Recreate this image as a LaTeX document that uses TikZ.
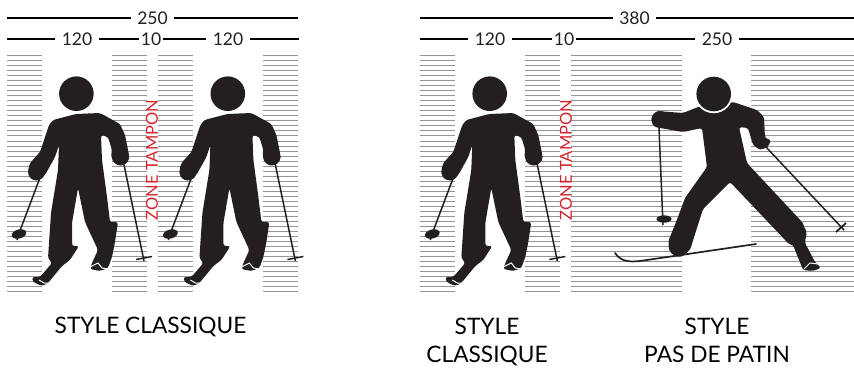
\documentclass[tikz,border=0pt]{standalone}
\usepackage{fontspec}
\setmainfont{Lato}
\usetikzlibrary{positioning}
\definecolor{inkblack}{HTML}{231F20}
\definecolor{zonered}{HTML}{D2232A}
\tikzset{
  hatchline/.style={black!42,line width=1pt},
  dimline/.style={black,line width=1.4pt},
  dimlbl/.style={font=\fontsize{17.5}{17}\selectfont,inner xsep=6.5pt,inner ysep=0pt,text=inkblack},
  dimlbltight/.style={dimlbl,inner xsep=1.5pt},
  zonelbl/.style={font=\fontsize{16.5}{17}\selectfont,text=zonered,rotate=90,inner sep=0pt},
  stylelbl/.style={font=\fontsize{22.7}{28}\selectfont,align=center,text=black,inner sep=0pt},
  skierbody/.style={fill=inkblack,rounded corners=2.5pt},
  skierpole/.style={draw=inkblack,line width=1.5pt},
  skierbasket/.style={fill=inkblack},
  shoeline/.style={draw=white,line width=1pt},
  classique/.pic={
    \fill[skierbody] (53,120) -- (76,114) -- (100,113) -- (120,124) -- (125,135) -- (129,155)
      -- (129,160) -- (123,165) -- (114,163) -- (111,156) -- (112,150) -- (108,137) -- (101,135)
      -- (102,160) -- (107,197) -- (110,222) -- (118,222) -- (115,242) -- (112,257) -- (108,268)
      -- (100,271) -- (90,269) -- (92,263) -- (98,250) -- (85,222) -- (78,188) -- (72,223)
      -- (72,246) -- (79,246) -- (70,260) -- (62,266) -- (48,283) -- (42,286) -- (33,282)
      -- (32,277) -- (40,277) -- (52,263) -- (48,258) -- (51,213) -- (58,170) -- (59,145)
      -- (55,157) -- (45,175) -- (38,180) -- (31,177) -- (28,170) -- (30,163) -- (40,152)
      -- (49,125) -- cycle;
    \fill[inkblack] (76.4,93.7) circle (17.3);
    \fill[inkblack] (36.5,172) circle (8.5);
    \fill[inkblack] (120.5,157) circle (8.5);
    \draw[shoeline] (39,280) -- (44,283) -- (50,283);
    \draw[shoeline] (90,267) -- (98,263) -- (102,268) -- (108,269);
    \draw[skierpole] (41,175) -- (18,236);
    \fill[skierbasket,rotate around={15:(19,234)}] (19,234) ellipse (7.5 and 4.5);
    \draw[skierpole] (18,236) -- (17,240);
    \draw[skierpole] (123,160) -- (144,261);
    \draw[skierpole] (136,259.5) -- (152,256.5);
  },
  patin/.pic={
    \fill[skierbody] (698,107) -- (683,113) -- (657,111) -- (651,118) -- (653,126) -- (660,128)
      -- (683,132) -- (702,128) -- (707,167) -- (685,198) -- (678,217) -- (668,242) -- (672,253)
      -- (682,256) -- (690,250) -- (703,209) -- (730,182) -- (787,242) -- (793,245) -- (803,270)
      -- (813,271) -- (821,268) -- (815,262) -- (805,243) -- (806,233) -- (803,223) -- (747,163)
      -- (739,127) -- (748,128) -- (753,145) -- (760,150) -- (768,147) -- (771,140) -- (765,138)
      -- (764,117) -- (757,110) -- (733,102) -- cycle;
    \fill[inkblack] (660,119.5) circle (8.5);
    \fill[inkblack] (679,246) circle (10.5);
    \fill[inkblack] (795,234) circle (11.5);
    \fill[white] (713.7,94) circle (19.2);
    \fill[inkblack] (713.7,94) circle (17.3);
    \draw[shoeline] (804,269) -- (810,263) -- (818,264);
    \draw[skierpole] (659,128) -- (663,225);
    \fill[skierbasket] (664,219) ellipse (7.5 and 3.7);
    \draw[skierpole] (766,147) -- (844,230);
    \draw[inkblack,line width=1.8pt] (836,232) -- (846,223);
    \draw[inkblack,line width=1.7pt,line cap=round] (615,253) .. controls (621,262) and (630,262) .. (640,261) -- (756,244);
  },
}
\begin{document}
\begin{tikzpicture}[x=1pt,y=-1pt]
  \useasboundingbox (0,0) rectangle (854,367);
  % ruled bands
  \foreach \xa/\xb in {7/42,112/147,158/193,263/298,420/455,525/560,571/682,751/854} {
    \foreach \i in {0,...,47} {
      \draw[hatchline] (\xa,{55.5+5.03*\i}) -- (\xb,{55.5+5.03*\i});
    }
  }
  % widths, left group
  \coordinate (la) at (7,18);
  \coordinate (lb) at (298,18);
  \coordinate (lc) at (7,39);
  \coordinate (ld) at (299,39);
  \node[dimlbl] (ltotal) at (152.5,18) {250};
  \node[dimlbl] (lone) at (77,39) {120};
  \node[dimlbltight] (lgap) at (151,39) {10};
  \node[dimlbl] (ltwo) at (228,39) {120};
  \draw[dimline] (la) -- (ltotal) -- (lb);
  \draw[dimline] (lc) -- (lone) -- (lgap) -- (ltwo) -- (ld);
  % widths, right group
  \coordinate (ra) at (420,18);
  \coordinate (rb) at (854,18);
  \coordinate (rc) at (420,39);
  \coordinate (rd) at (854,39);
  \node[dimlbl] (rtotal) at (634.5,18) {380};
  \node[dimlbl] (rone) at (490,39) {120};
  \node[dimlbltight] (rgap) at (564,39) {10};
  \node[dimlbl] (rtwo) at (717,39) {250};
  \draw[dimline] (ra) -- (rtotal) -- (rb);
  \draw[dimline] (rc) -- (rone) -- (rgap) -- (rtwo) -- (rd);
  % skiers
  \pic (skierone) at (0,0) {classique};
  \pic (skiertwo) at (151.4,0) {classique};
  \pic (skierthree) at (413.3,0) {classique};
  \pic (skierfour) at (0,0) {patin};
  % labels
  \node[zonelbl] (zoneleft) at (152,160) {ZONE TAMPON};
  \node[zonelbl] (zoneright) at (566,160) {ZONE TAMPON};
  \node[stylelbl,anchor=base] (styleleft) at (150.5,333) {STYLE CLASSIQUE};
  \node[stylelbl] (stylemid) at (487,342) {STYLE\\CLASSIQUE};
  \node[stylelbl] (styleright) at (717,340) {STYLE\\PAS DE PATIN};
\end{tikzpicture}
\end{document}
